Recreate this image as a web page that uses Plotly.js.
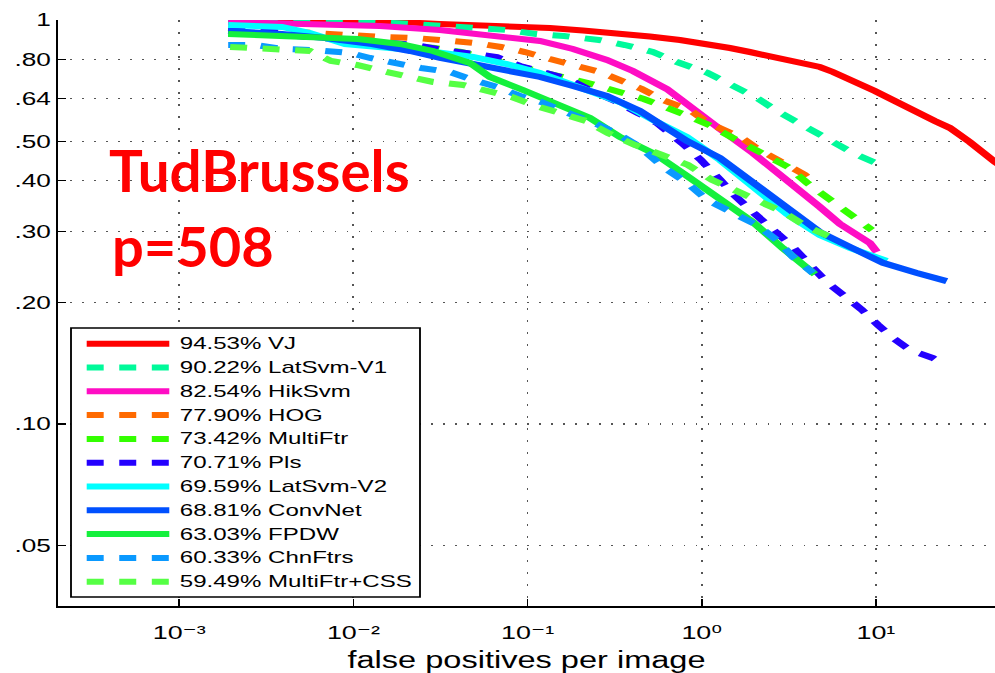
<!DOCTYPE html>
<html>
<head>
<meta charset="utf-8">
<script src="https://cdn.plot.ly/plotly-3.0.1.min.js"></script>
<style>
html, body { margin: 0; padding: 0; background: #fff; overflow: hidden; }
#wrap { position: relative; width: 995px; height: 673px; overflow: hidden; }
#plot { position: absolute; left: 0; top: 0; width: 703px; height: 673px; transform-origin: 0 0; transform: scaleX(1.415363); }
#labels { position: absolute; left: 0; top: 0; pointer-events: none; }
</style>
</head>
<body>
<div id="wrap">
  <div id="plot"></div>
  <svg id="labels" width="995" height="673">
    <text id="dsName" x="109" y="191.5" font-family="Lato, 'Open Sans', sans-serif" font-weight="700" font-size="56.5" fill="#FF0000"></text>
    <text id="dsCount" x="112" y="266.5" font-family="Lato, 'Open Sans', sans-serif" font-weight="700" font-size="56" fill="#FF0000"></text>
  </svg>
</div>
<script>
// ---------------- data ----------------
const datasetName = 'TudBrussels';
const pedestrianCount = 508;

const methodNames = ['VJ', 'LatSvm-V1', 'HikSvm', 'HOG', 'MultiFtr', 'Pls', 'LatSvm-V2', 'ConvNet', 'FPDW', 'ChnFtrs', 'MultiFtr+CSS'];
const logAvgMissRate = [94.53, 90.22, 82.54, 77.90, 73.42, 70.71, 69.59, 68.81, 63.03, 60.33, 59.49];

const vjFppi = [0.00191, 0.00734, 0.0185, 0.0314, 0.0694, 0.1345, 0.208, 0.339, 0.504, 0.750, 1.003, 1.452, 1.89, 2.81, 3.66, 4.77, 5.67, 7.09, 9.87, 12.85, 17.2, 21.8, 26.6, 34.6, 48.3, 58.8];
const vjMiss = [1.0, 0.9972, 0.9886, 0.9775, 0.9664, 0.9554, 0.9419, 0.9286, 0.9103, 0.8923, 0.8772, 0.8525, 0.8333, 0.8053, 0.7871, 0.765, 0.7436, 0.7145, 0.6673, 0.6303, 0.5887, 0.5625, 0.5405, 0.4990, 0.4453, 0.4206];

const latSvmV1Fppi = [0.00191, 0.00493, 0.01165, 0.02168, 0.0349, 0.0533, 0.0761, 0.1117, 0.1619, 0.2571, 0.3622, 0.5244, 0.721, 1.086, 1.511, 2.075, 2.775, 3.811, 5.309, 7.38, 10.55];
const latSvmV1Miss = [1.0, 0.9972, 0.9915, 0.9775, 0.9664, 0.9582, 0.9446, 0.9233, 0.9129, 0.8923, 0.8672, 0.8333, 0.7871, 0.7393, 0.6905, 0.6412, 0.5920, 0.5498, 0.5047, 0.4687, 0.4378];

const hikSvmFppi = [0.00191, 0.00493, 0.01422, 0.0314, 0.0761, 0.1178, 0.1823, 0.2856, 0.4027, 0.5244, 0.631, 0.8222, 1.071, 1.273, 1.967, 3.084, 4.772, 6.215, 7.78, 9.242, 10.13];
const hikSvmMiss = [0.9886, 0.9802, 0.9664, 0.9446, 0.9103, 0.8872, 0.8477, 0.7962, 0.7478, 0.7064, 0.6749, 0.6196, 0.5657, 0.5373, 0.4687, 0.4022, 0.3445, 0.3126, 0.2953, 0.2805, 0.2665];

const hogFppi = [0.00191, 0.00379, 0.00626, 0.00981, 0.01479, 0.02259, 0.03444, 0.05058, 0.07034, 0.09662, 0.1345, 0.1897, 0.2606, 0.3718, 0.4533, 0.5985, 0.8554, 1.086, 1.702, 2.102, 2.813, 3.910, 4.29];
const hogMiss = [0.9554, 0.9392, 0.9207, 0.9181, 0.9077, 0.9025, 0.8923, 0.8772, 0.8574, 0.8333, 0.8007, 0.7694, 0.7436, 0.6984, 0.6749, 0.6339, 0.5988, 0.5561, 0.5105, 0.4795, 0.4479, 0.4137, 0.3999];

const multiFtrFppi = [0.00191, 0.00493, 0.01384, 0.02943, 0.04148, 0.0694, 0.1345, 0.2223, 0.3215, 0.4653, 0.7797, 1.100, 1.552, 2.249, 3.126, 4.020, 5.236, 7.092, 9.49];
const multiFtrMiss = [0.9286, 0.9129, 0.8772, 0.8525, 0.8333, 0.7916, 0.7351, 0.6984, 0.6673, 0.6375, 0.5853, 0.5498, 0.5074, 0.4687, 0.4329, 0.3954, 0.3651, 0.3310, 0.3019];

const plsFppi = [0.00191, 0.00332, 0.00474, 0.00715, 0.01062, 0.01559, 0.02259, 0.03226, 0.04607, 0.06675, 0.09036, 0.1225, 0.1707, 0.2343, 0.3174, 0.4303, 0.5533, 0.7692, 0.9895, 1.273, 1.552, 2.020, 2.563, 3.340, 4.183, 5.236, 6.464, 8.311, 10.27, 12.53, 15.68, 21.25, 23.9];
const plsMiss = [0.9446, 0.9392, 0.9129, 0.9025, 0.8923, 0.8822, 0.8672, 0.8429, 0.8239, 0.8099, 0.7694, 0.7436, 0.7145, 0.6673, 0.6303, 0.5887, 0.5561, 0.4961, 0.4504, 0.4022, 0.3672, 0.3310, 0.3019, 0.2744, 0.2478, 0.2245, 0.2089, 0.1917, 0.1759, 0.1634, 0.1525, 0.1457, 0.1413];

const latSvmV2Fppi = [0.00191, 0.00389, 0.00563, 0.00895, 0.01622, 0.02943, 0.04862, 0.0761, 0.1178, 0.2281, 0.3390, 0.5244, 0.8222, 1.273, 1.967, 3.084, 4.772, 7.092, 11.56];
const latSvmV2Miss = [0.9719, 0.9609, 0.9286, 0.8722, 0.8525, 0.8333, 0.8099, 0.7782, 0.7393, 0.6673, 0.6267, 0.5657, 0.5134, 0.4504, 0.3887, 0.3310, 0.2934, 0.2727, 0.2532];

const convNetFppi = [0.00191, 0.00389, 0.00687, 0.01279, 0.02113, 0.03141, 0.04862, 0.0761, 0.1178, 0.1823, 0.2856, 0.4417, 0.8222, 1.273, 1.967, 3.084, 4.772, 7.092, 10.97, 17.19, 25.5];
const convNetMiss = [0.9392, 0.9233, 0.9025, 0.8722, 0.8381, 0.8053, 0.7782, 0.7478, 0.7227, 0.6866, 0.6485, 0.5954, 0.5018, 0.4556, 0.3976, 0.3426, 0.2985, 0.2744, 0.2506, 0.2365, 0.2258];

const fpdwFppi = [0.00191, 0.00493, 0.01062, 0.0185, 0.02864, 0.04667, 0.06081, 0.09414, 0.1475, 0.2281, 0.3390, 0.5386, 0.8222, 1.273, 1.967, 2.926, 4.469];
const fpdwMiss = [0.9233, 0.9077, 0.8974, 0.8722, 0.8381, 0.7827, 0.7227, 0.6711, 0.6196, 0.5722, 0.5134, 0.4660, 0.4113, 0.3589, 0.3161, 0.2722, 0.2348];

const chnFtrsFppi = [0.00191, 0.00272, 0.00394, 0.00586, 0.00956, 0.01245, 0.02445, 0.03583, 0.04862, 0.06675, 0.09036, 0.1194, 0.1707, 0.2343, 0.3303, 0.4417, 0.5985, 0.8222, 1.071, 1.452, 2.075, 2.70, 3.340, 4.350];
const chnFtrsMiss = [0.8672, 0.8672, 0.8477, 0.8429, 0.8286, 0.8053, 0.7607, 0.7436, 0.7104, 0.6827, 0.6485, 0.6267, 0.5887, 0.5593, 0.5223, 0.4850, 0.4329, 0.3954, 0.3589, 0.3348, 0.3107, 0.2852, 0.2593, 0.2365];

const multiFtrCssFppi = [0.00196, 0.00252, 0.00389, 0.00563, 0.00744, 0.01049, 0.01459, 0.02056, 0.02864, 0.04256, 0.05848, 0.0813, 0.1074, 0.1495, 0.2165, 0.2893, 0.4131, 0.5912, 0.8337, 1.145, 1.552, 2.102, 3.004, 3.965, 5.666];
const multiFtrCssMiss = [0.8574, 0.8525, 0.8477, 0.8381, 0.7916, 0.7738, 0.7478, 0.7268, 0.7024, 0.6905, 0.6673, 0.6448, 0.6161, 0.5920, 0.5625, 0.5253, 0.4905, 0.4634, 0.4378, 0.4022, 0.3796, 0.3548, 0.3329, 0.3089, 0.2885];

const xTickVals = [0.001, 0.01, 0.1, 1, 10];
const xTickText = ['10\u207B\u00B3', '10\u207B\u00B2', '10\u207B\u00B9', '10\u2070', '10\u00B9'];
const yTickVals = [0.05, 0.1, 0.2, 0.3, 0.4, 0.5, 0.64, 0.8, 1];
const yTickText = ['.05', '.10', '.20', '.30', '.40', '.50', '.64', '.80', '1'];

// ---------------- styles ----------------
const seriesFppi = [vjFppi, latSvmV1Fppi, hikSvmFppi, hogFppi, multiFtrFppi, plsFppi, latSvmV2Fppi, convNetFppi, fpdwFppi, chnFtrsFppi, multiFtrCssFppi];
const seriesMiss = [vjMiss, latSvmV1Miss, hikSvmMiss, hogMiss, multiFtrMiss, plsMiss, latSvmV2Miss, convNetMiss, fpdwMiss, chnFtrsMiss, multiFtrCssMiss];
const seriesColors = ['#FF0000', '#00FA9A', '#FF0DC4', '#FF6A00', '#33FF00', '#2400FF', '#00FFFF', '#0050FF', '#14F03C', '#0A99FF', '#55FF44'];
const dashPattern = '12px,11px';
const seriesDashed = [false, true, false, true, true, true, false, false, false, true, true];

const S = 995 / 703;            // horizontal stretch of the reference figure
const plotL = 41, plotW = 662, plotT = 20, plotH = 586;
function pxX(X) { return (X / S - plotL) / plotW; }
function pxY(Y) { return (plotT + plotH - Y) / plotH; }

const FONT = 'Liberation Sans, Arial, Helvetica, DejaVu Sans, sans-serif';

const traces = methodNames.map((name, i) => ({
  type: 'scatter',
  mode: 'lines',
  x: seriesFppi[i],
  y: seriesMiss[i],
  name: name,
  line: { color: seriesColors[i], width: 6, dash: seriesDashed[i] ? dashPattern : 'solid' },
  showlegend: false,
  hoverinfo: 'skip'
}));

// custom legend (MATLAB-style long line samples)
const legBox = { x0: 71, x1: 420, y0: 328, y1: 597 };
const legRow0 = 343.7, legRowStep = 23.8;
const legLineX0 = 86.7, legLineX1 = 169.3, legTextX = 176.5;

const shapes = [{
  type: 'rect', xref: 'paper', yref: 'paper', layer: 'above',
  x0: pxX(legBox.x0), x1: pxX(legBox.x1), y0: pxY(legBox.y1), y1: pxY(legBox.y0),
  fillcolor: '#FFFFFF', line: { color: '#000000', width: 1.3 }
}];
const annotations = [];
methodNames.forEach((name, i) => {
  const yRow = legRow0 + i * legRowStep;
  shapes.push({
    type: 'line', xref: 'paper', yref: 'paper', layer: 'above',
    x0: pxX(legLineX0), x1: pxX(legLineX1), y0: pxY(yRow), y1: pxY(yRow),
    line: { color: seriesColors[i], width: 6, dash: seriesDashed[i] ? dashPattern : 'solid' }
  });
  annotations.push({
    xref: 'paper', yref: 'paper', x: pxX(legTextX), y: pxY(yRow),
    xanchor: 'left', yanchor: 'middle', showarrow: false,
    text: logAvgMissRate[i].toFixed(2) + '% ' + name,
    font: { family: FONT, size: 17, color: '#000000' }
  });
});

const layout = {
  width: 703, height: 673,
  margin: { l: plotL, r: 0, t: plotT, b: 67, pad: 0 },
  paper_bgcolor: '#FFFFFF', plot_bgcolor: '#FFFFFF',
  showlegend: false,
  font: { family: FONT, color: '#000000' },
  xaxis: {
    type: 'log', range: [-3.696, 1.684],
    tickvals: xTickVals, ticktext: xTickText,
    tickfont: { family: FONT, size: 19, color: '#000000' },
    ticklabelstandoff: 9,
    ticks: 'inside', ticklen: 7, tickwidth: 1.1, tickcolor: '#000000',
    showline: true, linecolor: '#000000', linewidth: 1.6, mirror: false,
    showgrid: true, gridcolor: '#555555', gridwidth: 1.3, griddash: '1.5px,10.5px',
    zeroline: false, automargin: false,
    title: { text: 'false positives per image', font: { family: FONT, size: 23, color: '#000000' }, standoff: 17 }
  },
  yaxis: {
    type: 'log', range: [-1.4505, 0],
    tickvals: yTickVals, ticktext: yTickText,
    tickfont: { family: FONT, size: 18.5, color: '#000000' },
    ticks: 'inside', ticklen: 5.5, tickwidth: 1.3, tickcolor: '#000000',
    showline: true, linecolor: '#000000', linewidth: 1.4, mirror: false,
    showgrid: true, gridcolor: '#555555', gridwidth: 1.3, griddash: '1.1px,7.4px',
    zeroline: false, automargin: false
  },
  shapes: shapes,
  annotations: annotations
};

Plotly.newPlot('plot', traces, layout, { staticPlot: true, displayModeBar: false });

document.getElementById('dsName').textContent = datasetName;
document.getElementById('dsCount').textContent = 'p=' + pedestrianCount;
</script>
</body>
</html>
